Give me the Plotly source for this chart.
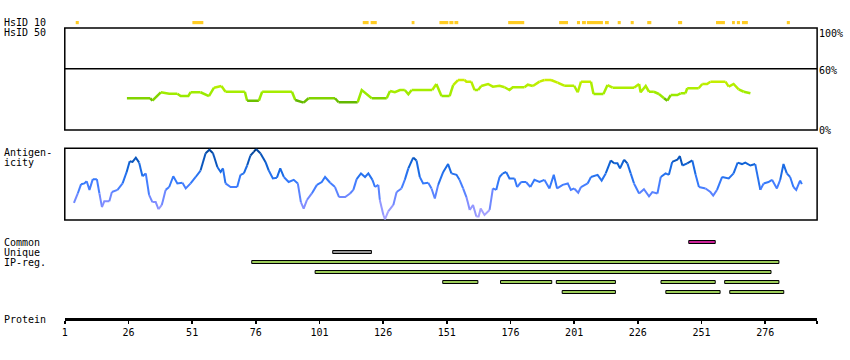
import plotly.graph_objects as go
from plotly.colors import sample_colorscale

W, H = 850, 360
FONT = "DejaVu Sans Mono"

# ---------------- data ----------------
# HsID 10 regions (residue start / end)
hs10_start = [5.3, 51.1, 118.0, 121.1, 137.2, 148.1, 152.0, 154.0, 175.1, 195.1, 202.1, 204.1,
              206.0, 213.1, 218.1, 223.2, 229.7, 241.8, 256.7, 263.0, 264.9, 266.9, 284.5]
hs10_end = [6.5, 55.4, 120.3, 123.5, 138.3, 151.6, 153.6, 155.5, 181.4, 198.6, 203.3, 205.6,
            212.3, 214.6, 219.3, 224.4, 231.3, 243.4, 260.2, 264.1, 266.1, 269.2, 285.7]

# HsID 50 identity profile (%)
hs50_res = [25.4, 34.6, 35.4, 38.7, 42.0, 45.2, 46.5, 49.5, 50.4, 54.3, 57.6, 59.6, 62.5, 64.1,
            71.7, 72.6, 77.2, 78.5, 90.2, 91.5, 94.8, 96.7, 107.1, 108.5, 116.0, 117.6, 121.5,
            127.4, 128.7, 130.6, 132.6, 134.5, 135.9, 137.2, 145.3, 146.9, 148.9, 152.1, 153.5,
            155.4, 158.0, 158.7, 160.6, 161.9, 163.3, 164.5, 167.2, 169.1, 171.7, 173.7, 175.6,
            176.9, 181.5, 182.8, 184.8, 187.4, 189.3, 191.9, 194.5, 197.1, 201.0, 202.4, 203.7,
            207.6, 208.6, 212.5, 214.1, 216.1, 224.5, 226.5, 227.1, 229.1, 230.4, 232.3, 234.3,
            236.3, 237.6, 238.9, 241.5, 242.8, 244.7, 245.4, 249.9, 251.3, 253.2, 254.5, 260.4,
            261.7, 263.6, 265.6, 267.6, 270.2]
hs50_pct = [31.1, 31.1, 28.7, 37.0, 35.6, 35.6, 33.3, 33.3, 37.0, 37.0, 33.3, 41.5, 43.1, 37.5,
            37.5, 28.7, 28.7, 37.5, 37.5, 29.4, 26.8, 31.1, 31.1, 27.2, 27.2, 39.2, 31.1,
            31.1, 38.2, 37.0, 39.2, 39.2, 35.0, 39.2, 39.2, 45.1, 33.3, 33.3, 44.1,
            49.0, 49.0, 47.4, 47.4, 39.2, 39.2, 43.1, 45.1, 42.5, 43.4, 41.9, 39.2,
            41.9, 41.9, 44.4, 43.1, 47.4, 49.0, 49.0, 46.4, 43.4, 43.4, 37.0, 47.4,
            47.4, 35.3, 35.3, 44.1, 41.5, 41.5, 45.1, 37.0, 43.1, 37.5, 37.5, 35.3,
            31.1, 28.7, 34.3, 34.3, 36.0, 36.0, 40.9, 40.9, 45.1, 45.1, 47.4, 47.4,
            42.5, 45.1, 39.9, 37.5, 36.0]

# Antigenicity profile (relative score 0..1)
ag_res = [4.6, 6.1, 7.4, 8.7, 9.6, 10.7, 12.0, 13.6, 14.6, 15.6, 16.5, 18.5, 19.5, 21.7, 23.7,
          25.3, 26.5, 27.6, 28.9, 30.2, 31.5, 32.8, 34.1, 35.4, 36.7, 37.8, 39.1, 40.6, 42.0,
          43.6, 45.2, 47.2, 48.5, 50.4, 52.4, 54.3, 56.3, 57.8, 59.2, 60.9, 62.2, 63.1, 64.1,
          66.1, 68.7, 70.0, 71.3, 72.6, 73.9, 75.2, 76.1, 77.8, 79.8, 81.1, 82.7, 84.3, 85.6,
          87.0, 88.9, 90.9, 92.5, 93.7, 94.8, 96.1, 98.0, 100.0, 101.9, 103.2, 105.2, 107.1,
          108.7, 111.1, 113.0, 114.3, 115.6, 117.3, 118.9, 120.2, 121.8, 122.8, 124.1, 124.7,
          126.1, 126.7, 128.0, 130.0, 131.3, 133.2, 134.5, 135.9, 137.8, 139.1, 140.4, 141.7,
          143.7, 145.0, 146.3, 147.6, 149.6, 151.5, 152.8, 154.8, 156.0, 157.4, 158.7, 160.0,
          161.3, 162.6, 163.5, 164.3, 165.8, 167.8, 169.1, 170.4, 171.7, 173.0, 174.3, 175.6,
          177.6, 178.6, 180.2, 182.1, 183.8, 185.4, 187.4, 189.3, 191.3, 193.0, 194.3, 196.5,
          198.5, 199.7, 201.0, 202.6, 203.7, 206.3, 207.6, 210.2, 211.8, 213.4, 215.4, 216.7,
          218.0, 219.0, 220.6, 221.9, 223.2, 224.5, 226.5, 228.4, 230.4, 231.7, 233.7, 235.0,
          236.9, 238.2, 239.5, 241.5, 242.5, 243.5, 245.4, 247.4, 248.7, 250.0, 252.6, 254.5,
          255.6, 257.1, 259.1, 261.7, 263.6, 265.2, 266.9, 268.2, 270.2, 272.1, 274.1, 275.4,
          277.3, 278.7, 280.6, 281.9, 283.2, 284.5, 285.8, 287.1, 288.2, 289.7, 290.4]
ag_val = [0.24, 0.37, 0.50, 0.51, 0.54, 0.42, 0.57, 0.57, 0.37, 0.18, 0.26, 0.26, 0.39, 0.42, 0.51,
          0.67, 0.82, 0.81, 0.87, 0.80, 0.61, 0.65, 0.35, 0.25, 0.25, 0.15, 0.21, 0.42, 0.46,
          0.61, 0.51, 0.52, 0.44, 0.51, 0.60, 0.69, 0.93, 0.98, 0.93, 0.74, 0.67, 0.72, 0.51,
          0.46, 0.46, 0.63, 0.65, 0.76, 0.90, 0.95, 0.99, 0.93, 0.81, 0.69, 0.58, 0.59, 0.72,
          0.60, 0.53, 0.56, 0.51, 0.25, 0.16, 0.28, 0.37, 0.49, 0.53, 0.60, 0.52, 0.46,
          0.32, 0.32, 0.37, 0.42, 0.57, 0.65, 0.60, 0.65, 0.56, 0.46, 0.49, 0.28,
          0.07, 0.01, 0.12, 0.21, 0.39, 0.44, 0.56, 0.72, 0.87, 0.83, 0.60, 0.51,
          0.52, 0.44, 0.30, 0.49, 0.67, 0.78, 0.65, 0.63, 0.56, 0.44, 0.32, 0.14,
          0.21, 0.05, 0.05, 0.16, 0.07, 0.14, 0.44, 0.42, 0.60, 0.65, 0.67, 0.58,
          0.58, 0.46, 0.53, 0.53, 0.46, 0.56, 0.53, 0.56, 0.44, 0.63, 0.44, 0.49,
          0.51, 0.42, 0.44, 0.38, 0.46, 0.51, 0.60, 0.63, 0.55, 0.65, 0.83, 0.79,
          0.79, 0.72, 0.84, 0.79, 0.65, 0.51, 0.37, 0.43, 0.33, 0.39, 0.37, 0.60,
          0.65, 0.63, 0.81, 0.84, 0.89, 0.76, 0.79, 0.83, 0.63, 0.46, 0.44, 0.39,
          0.34, 0.42, 0.60, 0.58, 0.65, 0.80, 0.78, 0.80, 0.76, 0.78, 0.42, 0.51,
          0.53, 0.56, 0.44, 0.56, 0.78, 0.65, 0.60, 0.46, 0.42, 0.55, 0.50]

# Region tracks
common_start, common_end = [246.0], [256.4]
unique_start, unique_end = [106.2], [121.4]
ip_row = [0, 1, 2, 2, 2, 2, 2, 3, 3, 3]
ip_start = [74.4, 99.3, 149.4, 172.1, 194.0, 235.1, 260.1, 196.3, 237.0, 262.1]
ip_end = [281.4, 278.3, 163.2, 192.2, 217.2, 256.4, 281.4, 217.2, 258.3, 283.3]

protein_len = 296.4
tick_vals = [1, 26, 51, 76, 101, 126, 151, 176, 201, 226, 251, 276]

# ---------------- helpers ----------------
def py(px):  # pixel row -> paper fraction
    return 1 - px / H

def colored_line(xs, ys, scale, vmin, vmax, levels, yaxis, width):
    out = []
    def lev(v):
        t = (v - vmin) / (vmax - vmin)
        t = min(1, max(0, t))
        return round(t * (levels - 1))
    cur = lev((ys[0] + ys[1]) / 2)
    sx, sy = [xs[0]], [ys[0]]
    def flush(sx, sy, lv):
        col = sample_colorscale(scale, [lv / (levels - 1)])[0]
        out.append(go.Scatter(x=sx, y=sy, mode="lines", yaxis=yaxis, hoverinfo="skip",
                              line=dict(color=col, width=width), showlegend=False))
    for k in range(len(xs) - 1):
        lv = lev((ys[k] + ys[k + 1]) / 2)
        if lv != cur:
            flush(sx, sy, cur)
            sx, sy = [xs[k]], [ys[k]]
            cur = lv
        sx.append(xs[k + 1]); sy.append(ys[k + 1])
    flush(sx, sy, cur)
    return out

hs_scale = [[0.0, "#5cb000"], [0.2, "#6cc000"], [0.35, "#99ea00"], [0.6, "#aaee00"], [1.0, "#ccee00"]]
ag_scale = [[0.0, "#b4aaff"], [0.25, "#7f8cff"], [0.5, "#3a7cff"], [0.75, "#1166dd"], [1.0, "#003d8a"]]

fig = go.Figure()

# HsID 10 bars
fig.add_trace(go.Bar(orientation="h", y=[0] * len(hs10_start), base=hs10_start,
                     x=[e - s for s, e in zip(hs10_start, hs10_end)], width=0.8,
                     marker=dict(color="#ffcc22", line=dict(width=0)), yaxis="y4",
                     showlegend=False, hoverinfo="skip"))

for tr in colored_line(hs50_res, hs50_pct, hs_scale, 25, 50, 12, "y", 2.5):
    fig.add_trace(tr)
for tr in colored_line(ag_res, ag_val, ag_scale, 0, 1, 14, "y2", 2):
    fig.add_trace(tr)

# track bars
bar_w = 0.3
fig.add_trace(go.Bar(orientation="h", y=[0] * len(common_start), base=common_start,
                     x=[e - s for s, e in zip(common_start, common_end)], width=bar_w,
                     marker=dict(color="#cc2299", line=dict(color="black", width=1)),
                     yaxis="y3", showlegend=False, hoverinfo="skip"))
fig.add_trace(go.Bar(orientation="h", y=[1] * len(unique_start), base=unique_start,
                     x=[e - s for s, e in zip(unique_start, unique_end)], width=bar_w,
                     marker=dict(color="#999999", line=dict(color="black", width=1)),
                     yaxis="y3", showlegend=False, hoverinfo="skip"))
fig.add_trace(go.Bar(orientation="h", y=[r + 2 for r in ip_row], base=ip_start,
                     x=[e - s for s, e in zip(ip_start, ip_end)], width=bar_w,
                     marker=dict(color="#9ccc5a", line=dict(color="black", width=1)),
                     yaxis="y3", showlegend=False, hoverinfo="skip"))

noax = dict(showticklabels=False, showgrid=False, zeroline=False, showline=False, ticks="")

fig.update_layout(
    width=W, height=H, margin=dict(l=0, r=0, t=0, b=0),
    paper_bgcolor="white", plot_bgcolor="white", barmode="overlay", showlegend=False,
    font=dict(family=FONT, size=10, color="black"),
    xaxis=dict(domain=[62 / W, 817 / W], range=[1, protein_len], anchor="free", position=py(319),
               showline=True, linewidth=3, linecolor="black", ticks="outside", ticklen=3,
               tickwidth=1.5, tickcolor="black", tickvals=tick_vals + [protein_len - 0.1],
               ticktext=[str(t) for t in tick_vals] + [""], showgrid=False, zeroline=False,
               tickfont=dict(family=FONT, size=10, color="black")),
    yaxis=dict(domain=[py(130), py(28)], range=[0, 100], **noax),
    yaxis2=dict(domain=[py(220), py(148.3)], range=[0, 1], **noax),
    yaxis3=dict(domain=[py(297), py(237)], range=[5.5, -0.5], **noax),
    yaxis4=dict(domain=[py(24.7), py(20.7)], range=[-0.5, 0.5], **noax),
)

shapes = []
for ya in ["y", "y2"]:
    shapes.append(dict(type="rect", xref="x domain", yref=ya + " domain", x0=0, x1=1, y0=0, y1=1,
                       line=dict(color="black", width=1.5), layer="below"))
shapes.append(dict(type="line", xref="x domain", yref="y", x0=0, x1=1, y0=60, y1=60,
                   line=dict(color="black", width=1.5)))
fig.update_layout(shapes=shapes)

ann = []
def label(text, xpx, ypx, anchor="left"):
    ann.append(dict(text=text, x=xpx / W, y=py(ypx), xref="paper", yref="paper",
                    xanchor=anchor, yanchor="middle", showarrow=False, borderpad=0,
                    font=dict(family=FONT, size=10, color="black")))
label("HsID 10", 0, 22.5)
label("HsID 50", 0, 32.7)
label("Antigen-", 0, 152.7)
label("icity", 0, 163)
label("Common", 0, 242.7)
label("Unique", 0, 252.7)
label("IP-reg.", 0, 262.7)
label("Protein", 0, 319.5)
label("100%", 818, 33)
label("60%", 818, 70.5)
label("0%", 818, 130)
fig.update_layout(annotations=ann)

fig.write_html("out.html", config={"displayModeBar": False, "staticPlot": True},
               post_script="document.body.style.margin='0';document.body.style.padding='0';")
